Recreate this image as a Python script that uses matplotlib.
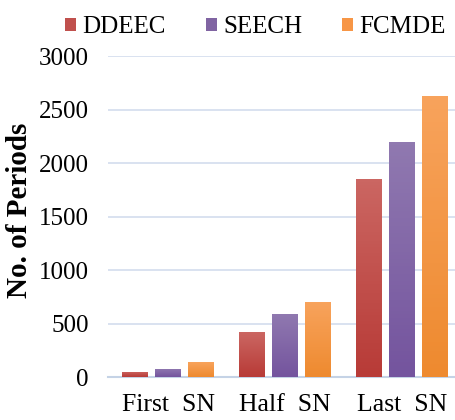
import numpy as np
import matplotlib.pyplot as plt
from matplotlib.colors import LinearSegmentedColormap

groups = ['First  SN', 'Half  SN', 'Last  SN']
protocols = ['DDEEC', 'SEECH', 'FCMDE']
ddeec = [50, 420, 1850]
seech = [80, 590, 2200]
fcmde = [140, 700, 2625]
y_ticks = [0, 500, 1000, 1500, 2000, 2500, 3000]

colors = ['#C0504D', '#8064A2', '#F79646']
bottom_colors = ['#B83B37', '#74549E', '#EE8A2F']
top_colors = ['#CB6662', '#9079B0', '#F8A35C']

plt.rcParams['font.family'] = ['Liberation Serif', 'DejaVu Serif']

fig = plt.figure(figsize=(4.56, 4.2), dpi=100)
ax = fig.add_axes([0.237, 0.102, 0.763, 0.764])

x = np.arange(len(groups))
width = 0.222
step = 0.282

for i, vals in enumerate([ddeec, seech, fcmde]):
    name = protocols[i]
    bars = ax.bar(x + (i - 1) * step, vals, width, color=colors[i], label=name, zorder=2)
    # light-to-dark vertical shading on each bar
    cmap = LinearSegmentedColormap.from_list('g' + name, [bottom_colors[i], top_colors[i]])
    for b in bars:
        x0, y0 = b.get_x(), b.get_y()
        w, h = b.get_width(), b.get_height()
        grad = np.linspace(0, 1, 64).reshape(-1, 1)
        im = ax.imshow(grad, cmap=cmap, origin='lower', aspect='auto',
                       extent=[x0, x0 + w, y0, y0 + h], zorder=3)
        im.set_clip_path(b)

ax.set_xlim(-0.513, 2.46)
ax.set_ylim(0, 3000)
ax.set_yticks(y_ticks)
ax.set_xticks(x)
ax.set_xticklabels(groups)
ax.tick_params(axis='y', length=0, labelsize=18, pad=14)
ax.tick_params(axis='x', length=0, labelsize=18.5, pad=12)
ax.yaxis.grid(True, color='#D3DDEE', linewidth=1.2, zorder=0)
ax.set_axisbelow(True)
for s in ['top', 'right', 'left']:
    ax.spines[s].set_visible(False)
ax.spines['bottom'].set_color('#C5D3E6')
ax.spines['bottom'].set_linewidth(1.5)

ax.set_ylabel('No. of Periods', fontsize=21, fontweight='bold')
ax.yaxis.set_label_coords(-0.215, 0.52)

fig.legend(loc='upper center', bbox_to_anchor=(0.56, 1.015), ncol=3, frameon=False,
           fontsize=18, handlelength=0.45, handleheight=0.45, handletextpad=0.25,
           columnspacing=1.6)

fig.savefig('out.png', dpi=100)
